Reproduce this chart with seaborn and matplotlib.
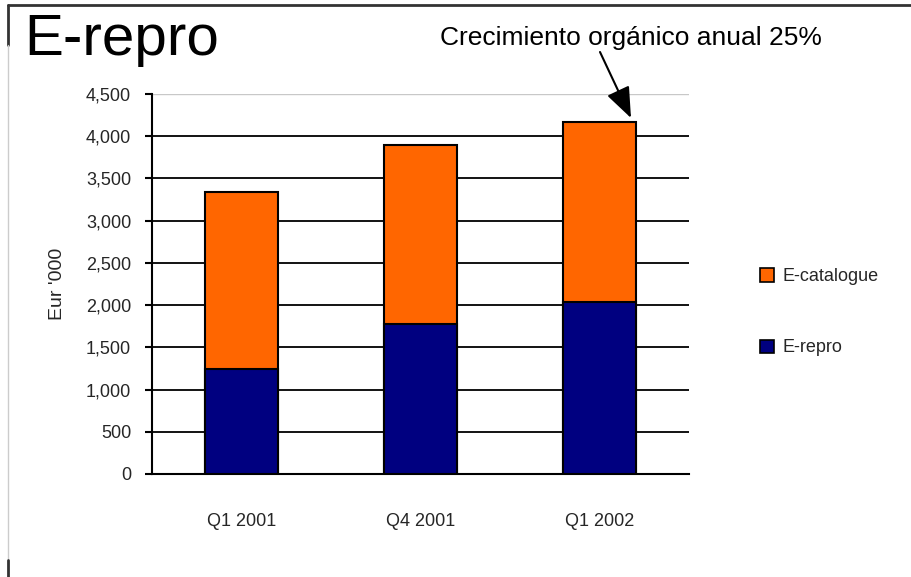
import matplotlib
matplotlib.use("Agg")
import matplotlib.pyplot as plt
from matplotlib.lines import Line2D
from matplotlib.patches import Patch
import seaborn as sns
import pandas as pd

categories = ["Q1 2001", "Q4 2001", "Q1 2002"]
e_repro = [1240, 1780, 2040]
e_catalogue = [2100, 2120, 2130]
y_ticks = [0, 500, 1000, 1500, 2000, 2500, 3000, 3500, 4000, 4500]

sns.set_style("white")
plt.rcParams["font.family"] = ["Liberation Sans", "DejaVu Sans"]

df = pd.DataFrame({"cat": categories, "repro": e_repro,
                   "total": [a + b for a, b in zip(e_repro, e_catalogue)]})

fig = plt.figure(figsize=(9.12, 5.77), dpi=100)
ax = fig.add_axes([152 / 912, 1 - 474 / 577, (689 - 152) / 912, (474 - 94) / 577])

orange = "#FF6600"
navy = "#000080"
sns.barplot(data=df, x="cat", y="total", color=orange, width=0.41,
            edgecolor="black", linewidth=1.5, saturation=1, ax=ax, zorder=3)
sns.barplot(data=df, x="cat", y="repro", color=navy, width=0.41,
            edgecolor="black", linewidth=1.5, saturation=1, ax=ax, zorder=3)

ax.set_xlim(-0.5, 2.5)
ax.set_ylim(0, 4500)
ax.set_yticks(y_ticks)
ax.set_yticklabels([f"{v:,}" for v in y_ticks], fontsize=13)
ax.set_xticks(range(len(categories)))
ax.set_xticklabels(categories, fontsize=13)
ax.set_xticks([-0.5, 0.5, 1.5, 2.5], minor=True)
ax.tick_params(axis="x", which="major", length=0, pad=28)
ax.tick_params(axis="x", which="minor", length=6, width=1.5, color="black", direction="out")
ax.tick_params(axis="y", length=5, width=1.5, color="black", direction="out", pad=10, left=True)
ax.set_xlabel("")
ax.set_ylabel("Eur '000", fontsize=14, labelpad=14)

ax.grid(axis="y", color="black", linewidth=1.3, zorder=0)
ax.set_axisbelow(True)
ax.get_ygridlines()[-1].set_color("#c8c8c8")
ax.get_ygridlines()[-1].set_linewidth(1.0)
for s in ["top", "right"]:
    ax.spines[s].set_visible(False)
for s in ["left", "bottom"]:
    ax.spines[s].set_color("black")
    ax.spines[s].set_linewidth(1.5)

fig.text(24 / 912, 1 - 40 / 577, "E-repro", fontsize=42, va="center", ha="left",
         color="black")
fig.text(631 / 912, 1 - 38 / 577, "Crecimiento orgánico anual 25%",
         fontsize=19, ha="center", va="center", color="black")
ax.annotate("", xy=(631 / 912, 1 - 118 / 577), xycoords="figure fraction",
            xytext=(600 / 912, 1 - 52 / 577), textcoords="figure fraction",
            arrowprops=dict(arrowstyle="-|>,head_length=1.9,head_width=0.75",
                            color="black", lw=1.5, shrinkA=0, shrinkB=0))

handles = [Patch(facecolor=orange, edgecolor="black", linewidth=1.2),
           Patch(facecolor=navy, edgecolor="black", linewidth=1.2)]
fig.legend(handles, ["E-catalogue", "E-repro"], loc="upper left",
           bbox_to_anchor=(744 / 912, 1 - 252 / 577), frameon=False,
           fontsize=13, handlelength=0.75, handleheight=0.75,
           handletextpad=0.5, labelspacing=3.0)

# border lines
fig.add_artist(Line2D([8 / 912, 1], [1 - 5 / 577] * 2, color="#333333", lw=2))
fig.add_artist(Line2D([8 / 912] * 2, [1 - 5 / 577, 1 - 45 / 577], color="#333333", lw=2))
fig.add_artist(Line2D([8 / 912] * 2, [1 - 45 / 577, 1 - 560 / 577], color="#cccccc", lw=1))
fig.add_artist(Line2D([8 / 912] * 2, [1 - 560 / 577, 0], color="#333333", lw=2))

fig.savefig("out.png", dpi=100)
